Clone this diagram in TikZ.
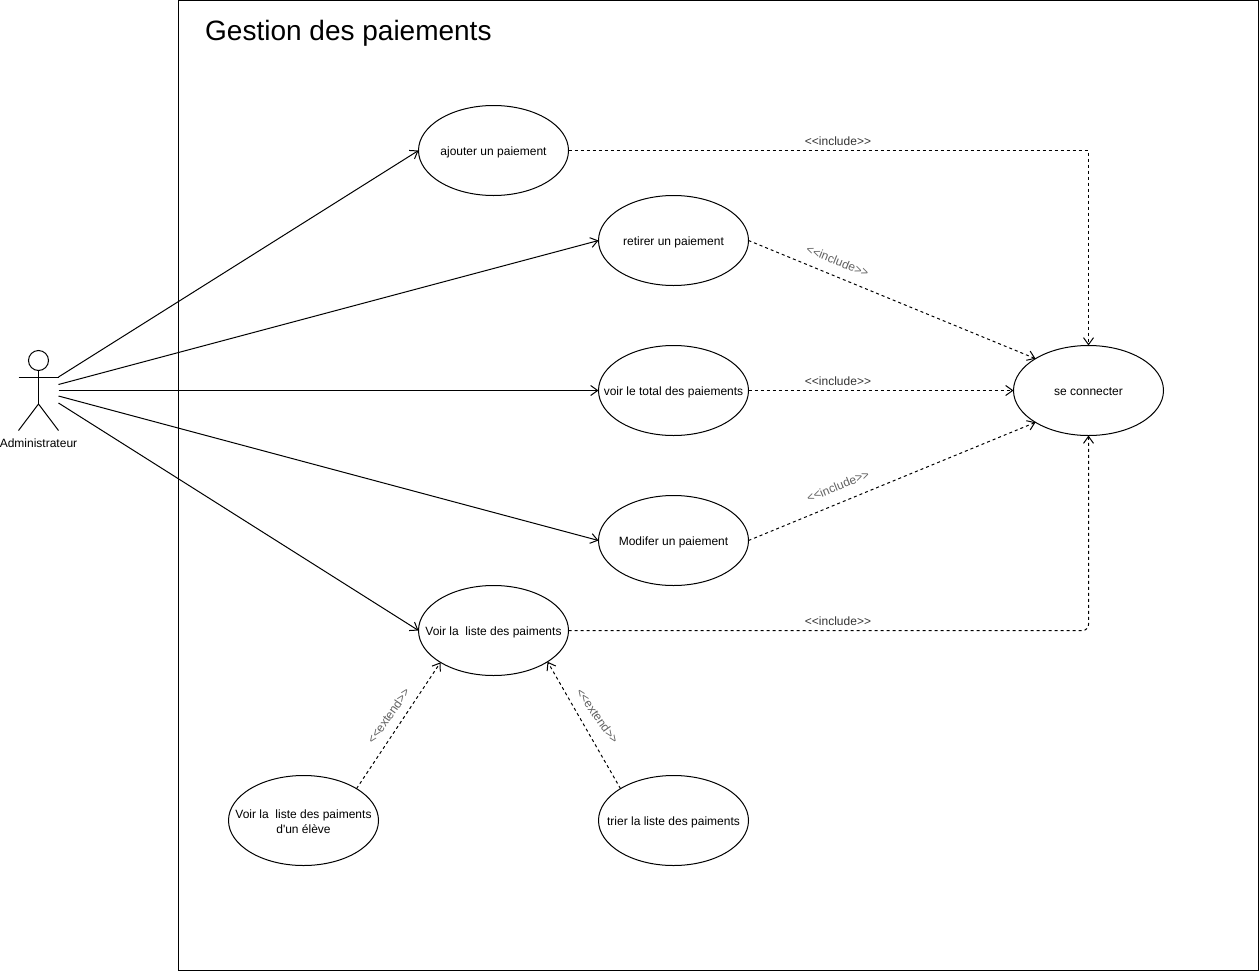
\documentclass[tikz,border=0pt]{standalone}
\usepackage{fontspec}
\setmainfont{Liberation Sans}[Ligatures=TeXOff]
\usetikzlibrary{arrows.meta,shapes.geometric}
\tikzset{
  usecase/.style={draw=black,line width=1pt,ellipse,minimum width=150pt,minimum height=90pt,inner xsep=-40pt,inner ysep=0pt,outer sep=0pt,font=\fontsize{12pt}{14.4pt}\selectfont,align=center,text height=13pt,text depth=4pt},
  assoc/.style={draw=black,line width=1pt,-{Straight Barb[length=7pt,width=10pt,line width=1pt]}},
  dep/.style={draw=black,line width=1pt,dash pattern=on 3pt off 3pt,-{Straight Barb[length=7pt,width=10pt,line width=1pt,sep=0pt]}},
  stereo/.style={font=\fontsize{12pt}{14pt}\selectfont,text=black!80,inner sep=0pt},
  stereogray/.style={stereo,text=black!62},
  limb/.style={draw=black,line width=1pt},
}
\begin{document}
\begin{tikzpicture}[x=1pt,y=-1pt]
\useasboundingbox (0,0) rectangle (1260,972);
\node[draw=black,line width=1pt,minimum width=1080pt,minimum height=970pt,inner sep=0pt,outer sep=0pt,anchor=north west] (frame) at (178.5,0.5) {};
\node[anchor=west,inner sep=0pt,font=\fontsize{28pt}{32pt}\selectfont] (title) at (205,33) {Gestion des paiements};

\node[usecase] (ajouter) at (493.5,150.5) {ajouter un paiement};
\node[usecase] (retirer) at (673.5,240.5) {retirer un paiement};
\node[usecase] (total) at (673.5,390.5) {voir le total des paiements};
\node[usecase] (modifer) at (673.5,540.5) {Modifer un paiement};
\node[usecase] (liste) at (493.5,630.5) {Voir la\ \ liste des paiments};
\node[usecase,text height=,text depth=] (eleve) at (303.5,820.5) {\rule{0pt}{11pt}Voir la\ \ liste des paiments\\d'un élève};
\node[usecase] (trier) at (673.5,820.5) {trier la liste des paiments};
\node[usecase] (connecter) at (1088.5,390.5) {se connecter};

% actor
\node[draw=black,line width=1pt,circle,minimum size=20pt,inner sep=0pt,outer sep=0pt] (head) at (38.5,360.5) {};
\coordinate (hip) at (38.5,404);
\coordinate (armL) at (18.5,377.5);
\coordinate (armR) at (58.5,377.5);
\coordinate (legL) at (18.5,430.5);
\coordinate (legR) at (58.5,430.5);
\draw[limb] (head.south) -- (hip);
\draw[limb] (armL) -- (armR);
\draw[limb] (legL) -- (hip) -- (legR);
\node[inner sep=0pt,font=\fontsize{12pt}{14pt}\selectfont] (actorlabel) at (38.5,443.5) {Administrateur};

\coordinate (a1) at (58.5,377);
\coordinate (a2) at (58.5,384.5);
\coordinate (a3) at (58.5,390.5);
\coordinate (a4) at (58.5,396);
\coordinate (a5) at (58.5,403);
\draw[assoc] (a1) -- (ajouter.west);
\draw[assoc] (a2) -- (retirer.west);
\draw[assoc] (a3) -- (total.west);
\draw[assoc] (a4) -- (modifer.west);
\draw[assoc] (a5) -- (liste.west);

\coordinate (c1) at (1088.5,150.5);
\coordinate (c5) at (1088.5,630.5);
\draw[dep] (ajouter.east) -- (c1) -- (connecter.north);
\draw[dep] (retirer.east) -- (connecter.149);
\draw[dep] (total.east) -- (connecter.west);
\draw[dep] (modifer.east) -- (connecter.211);
\draw[dep,rounded corners=6pt] (liste.east) -- (c5) -- (connecter.south);
\draw[dep] (eleve.31) -- (liste.211);
\draw[dep] (trier.149) -- (liste.330);

\node[stereo] (l1) at (838,141) {<<include>>};
\node[stereogray,rotate=-22] (l2) at (837.5,261) {<<include>>};
\node[stereo] (l3) at (838,381) {<<include>>};
\node[stereogray,rotate=22] (l4) at (838,486) {<<include>>};
\node[stereo] (l5) at (838,621) {<<include>>};
\node[stereogray,rotate=55] (l6) at (388.5,716) {<<extend>>};
\node[stereogray,rotate=-55] (l7) at (597.5,716) {<<extend>>};
\end{tikzpicture}
\end{document}
